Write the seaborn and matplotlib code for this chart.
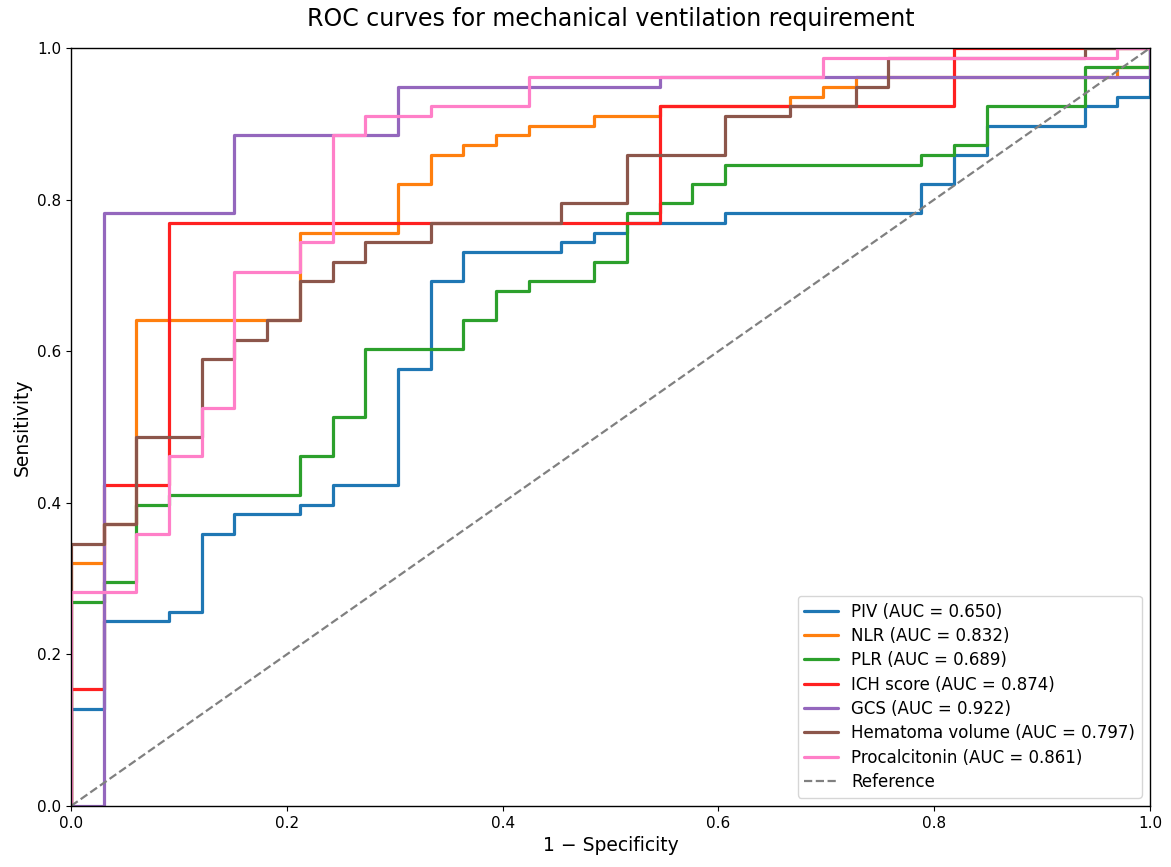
import matplotlib
matplotlib.use('Agg')
import matplotlib.pyplot as plt
import seaborn as sns
import pandas as pd

# ROC corner points, as counts:
# false positives out of 33 controls, true positives out of 78 cases.
# each point starts a horizontal run (steps-post)
n_neg = 33
n_pos = 78

piv_fp = [0, 0, 1, 3, 4, 5, 7, 8, 10, 11, 12, 15, 16, 17, 20, 26, 27, 28, 31, 32, 33]
piv_tp = [0, 10, 19, 20, 28, 30, 31, 33, 45, 54, 57, 58, 59, 60, 61, 64, 67, 70, 72, 73, 78]

nlr_fp = [0, 0, 1, 2, 7, 10, 11, 12, 13, 14, 16, 18, 22, 23, 24, 32, 33]
nlr_tp = [0, 25, 29, 50, 59, 64, 67, 68, 69, 70, 71, 72, 73, 74, 75, 76, 78]

plr_fp = [0, 0, 1, 2, 3, 7, 8, 9, 12, 13, 14, 16, 17, 18, 19, 20, 26, 27, 28, 31, 33]
plr_tp = [0, 21, 23, 31, 32, 36, 40, 47, 50, 53, 54, 56, 61, 62, 64, 66, 67, 68, 72, 76, 78]

ich_fp = [0, 0, 1, 3, 18, 27, 33]
ich_tp = [0, 12, 33, 60, 72, 78, 78]

gcs_fp = [0, 1, 5, 10, 18, 33]
gcs_tp = [0, 61, 69, 74, 75, 78]

hem_fp = [0, 0, 1, 2, 4, 5, 6, 7, 8, 9, 11, 15, 17, 20, 22, 24, 25, 31, 33]
hem_tp = [0, 27, 29, 38, 46, 48, 50, 54, 56, 58, 60, 62, 67, 71, 72, 74, 77, 78, 78]

pct_fp = [0, 0, 2, 3, 4, 5, 7, 8, 9, 11, 14, 23, 32, 33]
pct_tp = [0, 22, 28, 36, 41, 55, 58, 69, 71, 72, 75, 77, 78, 78]

names = ['PIV', 'NLR', 'PLR', 'ICH score', 'GCS', 'Hematoma volume', 'Procalcitonin']
aucs = [0.650, 0.832, 0.689, 0.874, 0.922, 0.797, 0.861]
colors = ['#1f77b4', '#ff7f0e', '#2ca02c', '#ff2020', '#9467bd', '#8c564b', '#ff7fc8']

curves = [(piv_fp, piv_tp), (nlr_fp, nlr_tp), (plr_fp, plr_tp), (ich_fp, ich_tp),
          (gcs_fp, gcs_tp), (hem_fp, hem_tp), (pct_fp, pct_tp)]

sns.set_style('ticks', {'text.color': 'black', 'axes.labelcolor': 'black',
                        'xtick.color': 'black', 'ytick.color': 'black',
                        'axes.edgecolor': 'black'})
plt.rcParams['font.family'] = ['DejaVu Sans']

fig = plt.figure(figsize=(11.71, 8.67), dpi=100)
ax = fig.add_axes([71 / 1171, 61 / 867, 1079 / 1171, 758 / 867])

for i in range(len(names)):
    fp, tp = curves[i]
    df = pd.DataFrame({'fpr': [v / n_neg for v in fp], 'tpr': [v / n_pos for v in tp]})
    sns.lineplot(data=df, x='fpr', y='tpr', ax=ax, color=colors[i], linewidth=2.3,
                 drawstyle='steps-post', sort=False, estimator=None,
                 label=f'{names[i]} (AUC = {aucs[i]:.3f})')

ax.plot([0, 1], [0, 1], linestyle='--', color='gray', linewidth=1.6, label='Reference')

ax.set_xlim(0, 1)
ax.set_ylim(0, 1)
ax.set_xlabel('1 − Specificity', fontsize=13.5)
ax.set_ylabel('Sensitivity', fontsize=13.5)
ax.set_title('ROC curves for mechanical ventilation requirement', fontsize=17, pad=16)
ax.tick_params(labelsize=11, colors='black')
for s in ax.spines.values():
    s.set_linewidth(1.0)
    s.set_color('black')
ax.legend(loc='lower right', fontsize=12, frameon=True, labelspacing=0.38)

fig.savefig('out.png', dpi=100)
